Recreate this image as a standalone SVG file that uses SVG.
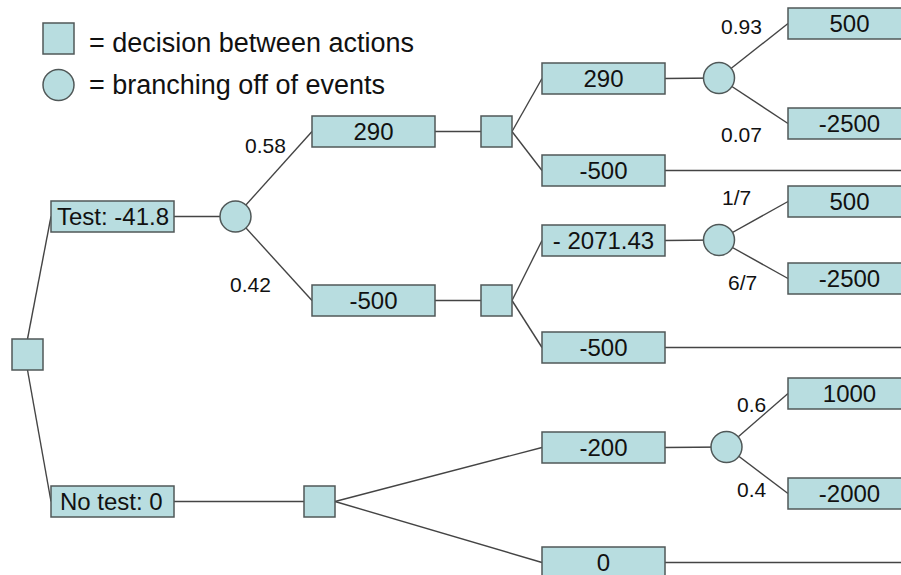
<svg xmlns="http://www.w3.org/2000/svg" width="901" height="575" viewBox="0 0 901 575">
<style>
.n{fill:#b8dde0;stroke:#505858;stroke-width:1.5}
.c line{stroke:#444;stroke-width:1.4}
.t{font-family:"Liberation Sans",Arial,sans-serif;font-size:24px;fill:#111;text-anchor:middle}
.tl{font-family:"Liberation Sans",Arial,sans-serif;font-size:24px;fill:#111}
.p{font-family:"Liberation Sans",Arial,sans-serif;font-size:21px;fill:#111}
.lg{font-family:"Liberation Sans",Arial,sans-serif;font-size:27px;fill:#111}
</style>
<rect width="901" height="575" fill="#fff"/>
<g id="legend">
<rect class="n" x="43" y="23" width="31" height="31"/>
<text class="lg" x="89" y="52">= decision between actions</text>
<circle class="n" cx="58.5" cy="85" r="15.5"/>
<text class="lg" x="89" y="94">= branching off of events</text>
</g>
<g id="connectors" class="c">
<line x1="27.5" y1="339" x2="51" y2="216.5"/>
<line x1="27.5" y1="370" x2="51" y2="501.5"/>
<line x1="174" y1="216.5" x2="220" y2="216.5"/>
<line x1="235.5" y1="216.5" x2="312" y2="131.5"/>
<line x1="235.5" y1="216.5" x2="312" y2="300.5"/>
<line x1="435" y1="131.5" x2="481" y2="131.5"/>
<line x1="512" y1="131.5" x2="542" y2="78.5"/>
<line x1="512" y1="131.5" x2="542" y2="170.5"/>
<line x1="665" y1="78.5" x2="719" y2="78"/>
<line x1="719" y1="78" x2="788" y2="23.5"/>
<line x1="719" y1="78" x2="788" y2="123.5"/>
<line x1="665" y1="170.5" x2="901" y2="170.5"/>
<line x1="435" y1="300.5" x2="481" y2="300.5"/>
<line x1="512" y1="300.5" x2="542" y2="240.5"/>
<line x1="512" y1="300.5" x2="542" y2="347.5"/>
<line x1="665" y1="240.5" x2="719" y2="240"/>
<line x1="719" y1="240" x2="788" y2="201.5"/>
<line x1="719" y1="240" x2="788" y2="278.5"/>
<line x1="665" y1="347.5" x2="901" y2="347.5"/>
<line x1="174" y1="501.5" x2="304" y2="501.5"/>
<line x1="335" y1="501.5" x2="542" y2="447.5"/>
<line x1="335" y1="501.5" x2="542" y2="562.5"/>
<line x1="665" y1="447.5" x2="726.5" y2="447"/>
<line x1="726.5" y1="447" x2="788" y2="393.5"/>
<line x1="726.5" y1="447" x2="788" y2="493.5"/>
<line x1="665" y1="562.5" x2="901" y2="562.5"/>
</g>
<g id="labels">
<text class="p" x="245" y="153">0.58</text>
<text class="p" x="230" y="292">0.42</text>
<text class="p" x="721" y="34">0.93</text>
<text class="p" x="721" y="142">0.07</text>
<text class="p" x="722" y="205">1/7</text>
<text class="p" x="728" y="290">6/7</text>
<text class="p" x="737" y="412">0.6</text>
<text class="p" x="737" y="497">0.4</text>
</g>
<g id="root"><rect class="n" x="12" y="339" width="31" height="31"/></g>
<g id="test"><rect class="n" x="51" y="201" width="123" height="31"/><text class="tl" x="57" y="225">Test: -41.8</text></g>
<g id="notest"><rect class="n" x="51" y="486" width="123" height="31"/><text class="tl" x="60" y="510">No test: 0</text></g>
<g id="chance-test"><circle class="n" cx="235.5" cy="216.5" r="15.5"/></g>
<g id="a290"><rect class="n" x="312" y="116" width="123" height="31"/><text class="t" x="373.5" y="140">290</text></g>
<g id="a-500"><rect class="n" x="312" y="285" width="123" height="31"/><text class="t" x="373.5" y="309">-500</text></g>
<g id="dec-pos"><rect class="n" x="481" y="116" width="31" height="31"/></g>
<g id="dec-neg"><rect class="n" x="481" y="285" width="31" height="31"/></g>
<g id="dec-notest"><rect class="n" x="304" y="486" width="31" height="31"/></g>
<g id="b290"><rect class="n" x="542" y="63" width="123" height="31"/><text class="t" x="603.5" y="87">290</text></g>
<g id="b-500a"><rect class="n" x="542" y="155" width="123" height="31"/><text class="t" x="603.5" y="179">-500</text></g>
<g id="b-2071"><rect class="n" x="542" y="225" width="123" height="31"/><text class="t" x="603.5" y="249">- 2071.43</text></g>
<g id="b-500b"><rect class="n" x="542" y="332" width="123" height="31"/><text class="t" x="603.5" y="356">-500</text></g>
<g id="b-200"><rect class="n" x="542" y="432" width="123" height="31"/><text class="t" x="603.5" y="456">-200</text></g>
<g id="b0"><rect class="n" x="542" y="547" width="123" height="31"/><text class="t" x="603.5" y="571">0</text></g>
<g id="chance1"><circle class="n" cx="719" cy="78" r="15.5"/></g>
<g id="chance2"><circle class="n" cx="719" cy="240" r="15.5"/></g>
<g id="chance3"><circle class="n" cx="726.5" cy="447" r="15.5"/></g>
<g id="c500a"><rect class="n" x="788" y="8" width="123" height="31"/><text class="t" x="849.5" y="32">500</text></g>
<g id="c-2500a"><rect class="n" x="788" y="108" width="123" height="31"/><text class="t" x="849.5" y="132">-2500</text></g>
<g id="c500b"><rect class="n" x="788" y="186" width="123" height="31"/><text class="t" x="849.5" y="210">500</text></g>
<g id="c-2500b"><rect class="n" x="788" y="263" width="123" height="31"/><text class="t" x="849.5" y="287">-2500</text></g>
<g id="c1000"><rect class="n" x="788" y="378" width="123" height="31"/><text class="t" x="849.5" y="402">1000</text></g>
<g id="c-2000"><rect class="n" x="788" y="478" width="123" height="31"/><text class="t" x="849.5" y="502">-2000</text></g>
</svg>
